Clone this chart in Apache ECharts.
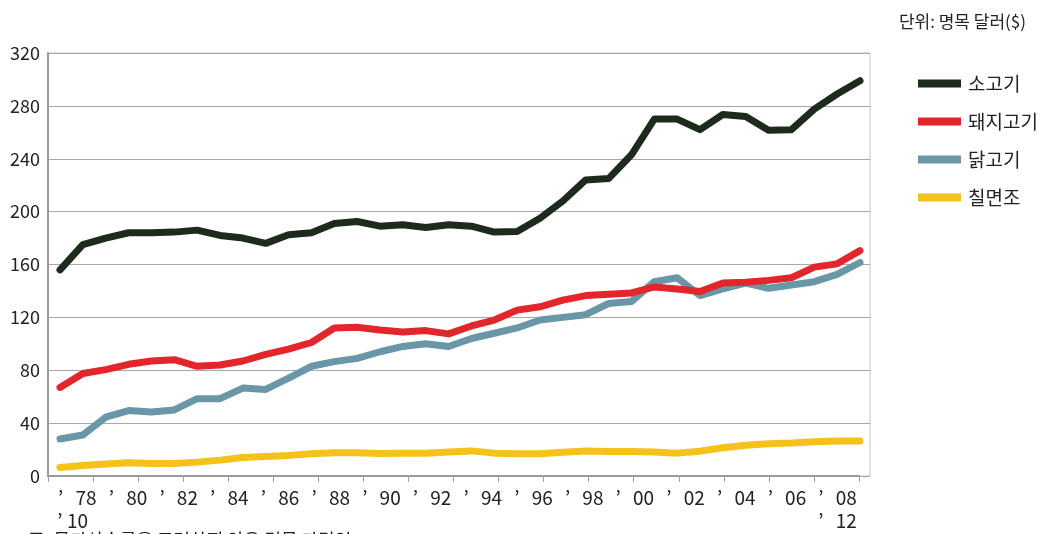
<!DOCTYPE html>
<html>
<head>
<meta charset="utf-8">
<script src="https://cdn.jsdelivr.net/npm/echarts@6/dist/echarts.min.js"></script>
<style>
  html, body { margin: 0; padding: 0; background: #fff; }
  #chart { width: 1043px; height: 534px; }
</style>
</head>
<body>
<div id="chart"></div>
<script>
// 연도 (1977 ~ 2012)
const years = [1977, 1978, 1979, 1980, 1981, 1982, 1983, 1984, 1985, 1986, 1987, 1988,
  1989, 1990, 1991, 1992, 1993, 1994, 1995, 1996, 1997, 1998, 1999, 2000,
  2001, 2002, 2003, 2004, 2005, 2006, 2007, 2008, 2009, 2010, 2011, 2012]

const beef = [156, 175, 180, 184, 184, 184.5, 186, 182, 180, 176, 182.5, 184,
  191, 192.5, 189, 190, 188, 190, 189, 184.5, 185, 195, 208, 224,
  225, 243, 270, 270, 262, 273.5, 272, 261.5, 262, 277.5, 289, 299]
const pork = [67, 77.5, 80.5, 84.5, 87, 88, 83, 84, 87, 92, 96, 101,
  112, 112.5, 110.5, 109, 110, 107.5, 113.5, 118, 125.5, 128, 133, 136.5,
  137.5, 138.5, 143, 141.5, 139.5, 146, 146.5, 148, 150, 158, 160.5, 170.5]
const chicken = [28, 31, 44.5, 49.5, 48.5, 50, 58.5, 58.5, 66.5, 65.5, 74, 83,
  86.5, 89, 94, 98, 100, 98, 104, 108, 112, 118, 120, 122,
  130.5, 132, 147, 150, 136.5, 141.5, 146, 142, 144.5, 147, 152.5, 161.5]
const turkey = [6.5, 8, 9, 10, 9.5, 9.5, 10.5, 12, 14, 14.8, 15.6, 16.8,
  17.5, 17.5, 17, 17.3, 17.3, 18.1, 19, 17.3, 16.8, 16.8, 18, 19,
  18.6, 18.6, 18.1, 17.3, 18.8, 21.4, 23.2, 24.4, 25, 26, 26.5, 26.5]

// 축 눈금 라벨
const xLabels = ['’\n{b|’ 10}', '78', '’', '80', '’', '82', '’', '84', '’', '86', '’', '88',
  '’', '90', '’', '92', '’', '94', '’', '96', '’', '98', '’', '00',
  '’', '02', '’', '04', '’', '06', '’\n’', '08\n12']
const yTicks = [0, 40, 80, 120, 160, 200, 240, 280, 320]
const tickSlots = 18

const seriesNames = ['소고기', '돼지고기', '닭고기', '칠면조']
const seriesColors = ['#1c2b1c', '#e2262b', '#6a97a8', '#f5c21b']
const seriesValues = [beef, pork, chicken, turkey]

const FONT = '"Noto Sans CJK KR", "Noto Sans", sans-serif'

const chart = echarts.init(document.getElementById('chart'))

const option = {
  animation: false,
  textStyle: { fontFamily: FONT },
  title: {
    text: '단위: 명목 달러($)',
    right: 12,
    top: 8,
    textStyle: { fontFamily: FONT, fontSize: 17, fontWeight: 'normal', color: '#222' },
  },
  legend: {
    orient: 'vertical',
    left: 913,
    top: 68,
    icon: 'rect',
    itemWidth: 43,
    itemHeight: 8,
    itemGap: 17,
    textStyle: { fontFamily: FONT, fontSize: 19, color: '#222', lineHeight: 21, padding: [0, 0, 0, 2] },
    data: seriesNames,
  },
  grid: [
    {
      left: 48, top: 53, width: 822, height: 423,
      show: true, borderColor: '#c8c8c8', borderWidth: 1,
    },
    { left: 48, top: 53, width: 811, height: 423 },
  ],
  xAxis: [
    {
      type: 'value',
      gridIndex: 0,
      position: 'bottom',
      min: 1976.475,
      max: 2012.4375,
      axisLine: { show: false },
      axisTick: { show: false },
      axisLabel: { show: false },
      splitLine: { show: false },
    },
    {
      type: 'category',
      gridIndex: 1,
      position: 'bottom',
      boundaryGap: true,
      data: xLabels,
      axisLine: { show: false },
      axisTick: { show: false },
      axisLabel: {
        interval: 0,
        margin: 10,
        fontFamily: FONT,
        fontSize: 19,
        color: '#222',
        lineHeight: 23,
        rich: {
          b: { fontFamily: FONT, fontSize: 19, color: '#222', lineHeight: 23, padding: [0, 0, 0, 24] },
        },
      },
    },
    {
      type: 'category',
      gridIndex: 1,
      position: 'bottom',
      boundaryGap: true,
      data: Array(tickSlots).fill(''),
      axisLine: { show: true, lineStyle: { color: '#9a9a9a', width: 2 } },
      axisTick: { show: true, interval: 0, length: 6, lineStyle: { color: '#a0a0a0', width: 1 } },
      axisLabel: { show: false },
    },
  ],
  yAxis: [
    {
      type: 'value',
      gridIndex: 0,
      min: yTicks[0],
      max: yTicks[yTicks.length - 1],
      interval: 40,
      axisLine: { show: true, lineStyle: { color: '#9a9a9a', width: 2 } },
      axisTick: { show: false },
      axisLabel: { margin: 8, fontFamily: FONT, fontSize: 18, color: '#222' },
      splitLine: { show: true, lineStyle: { color: '#a8a8a8', width: 1 } },
    },
    {
      type: 'value',
      gridIndex: 1,
      min: 0,
      max: 320,
      show: false,
    },
  ],
  graphic: [
    {
      type: 'text',
      left: 28,
      top: 531,
      style: { text: '주: 물가상승률을 고려하지 않은 명목 가격임', fontFamily: FONT, fontSize: 18, fill: '#222' },
    },
  ],
  series: seriesNames.map((name, k) => ({
    name: name,
    type: 'line',
    xAxisIndex: 0,
    yAxisIndex: 0,
    data: years.map((y, i) => [y, seriesValues[k][i]]),
    showSymbol: false,
    symbol: 'none',
    color: seriesColors[k],
    lineStyle: { width: 7, color: seriesColors[k], cap: 'round', join: 'round' },
    z: 10 - k,
  })),
}

chart.setOption(option)
window.addEventListener('resize', () => chart.resize())
</script>
</body>
</html>
